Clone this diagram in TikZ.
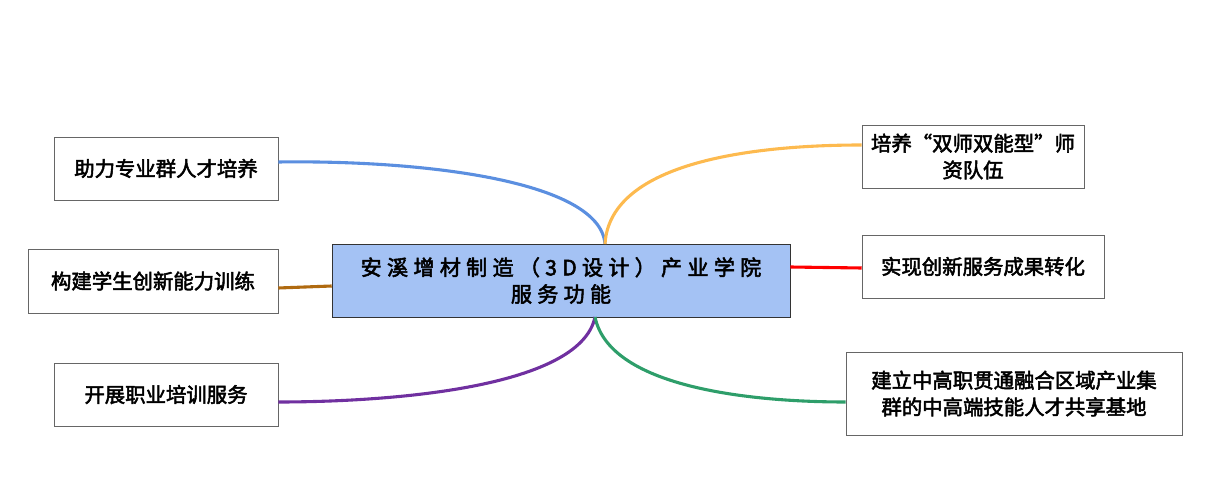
\documentclass[tikz,border=0pt]{standalone}
\usepackage{fontspec}
\setmainfont{Noto Sans CJK SC}[BoldFont={Noto Sans CJK SC}, BoldFeatures={FakeBold=2.5}]
\usepackage{xcolor}
\definecolor{hubfill}{HTML}{A4C2F4}
\definecolor{lblue}{HTML}{5B8FE0}
\definecolor{lorange}{HTML}{FDBA4F}
\definecolor{lbrown}{HTML}{B06A10}
\definecolor{lpurple}{HTML}{7030A0}
\definecolor{lgreen}{HTML}{2E9E6A}
\tikzset{
  topic/.style={draw=gray!80!black, fill=white, align=center, font=\bfseries\fontsize{14.5}{19}\selectfont, inner sep=0pt},
  hub/.style={draw=gray!40!black, fill=hubfill, align=center, font=\bfseries\fontsize{15}{19}\selectfont\addfontfeature{LetterSpace=25}, inner sep=0pt},
  branch/.style={line width=2.2pt}
}
\begin{document}
\begin{tikzpicture}[x=0.025cm, y=-0.025cm]
  \useasboundingbox (0,0) rectangle (1210,498);
  % central node
  \node[hub, minimum width=458*0.025cm, minimum height=73*0.025cm] (hub) at (561,280.5)
    {安溪增材制造（3D设计）产业学院\\服务功能};
  % left topics
  \node[topic, minimum width=224*0.025cm, minimum height=63*0.025cm] (t1) at (166,168.5) {助力专业群人才培养};
  \node[topic, minimum width=250*0.025cm, minimum height=64*0.025cm] (t2) at (153,281) {构建学生创新能力训练};
  \node[topic, minimum width=224*0.025cm, minimum height=63*0.025cm] (t3) at (166,394.5) {开展职业培训服务};
  % right topics
  \node[topic, minimum width=222*0.025cm, minimum height=63*0.025cm] (t4) at (973,156.5) {培养“双师双能型”师\\资队伍};
  \node[topic, minimum width=242*0.025cm, minimum height=63*0.025cm] (t5) at (983,266.5) {实现创新服务成果转化};
  \node[topic, minimum width=336*0.025cm, minimum height=83*0.025cm] (t6) at (1014,393.5) {建立中高职贯通融合区域产业集\\群的中高端技能人才共享基地};
  % branches
  \coordinate (top) at (605,244);
  \coordinate (bot) at (595,317);
  \draw[branch, lblue] (top) .. controls (600,180) and (420,160) .. (t1.east |- 0,162);
  \draw[branch, lorange] (top) .. controls (610,160) and (760,145) .. (t4.west |- 0,145);
  \draw[branch, lbrown] (hub.west |- 0,286) -- (t2.east |- 0,288);
  \draw[branch, red] (hub.east |- 0,267) -- (t5.west |- 0,268);
  \draw[branch, lpurple] (bot) .. controls (580,390) and (380,402) .. (t3.east |- 0,402);
  \draw[branch, lgreen] (bot) .. controls (610,390) and (760,402) .. (t6.west |- 0,402);
\end{tikzpicture}
\end{document}
